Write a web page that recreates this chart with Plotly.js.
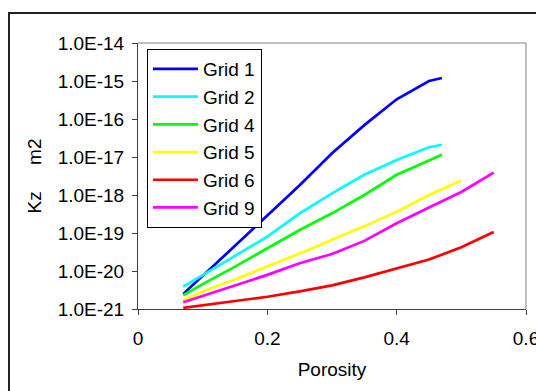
<!DOCTYPE html>
<html>
<head>
<meta charset="utf-8">
<script src="https://cdn.plot.ly/plotly-3.0.1.min.js"></script>
<style>html,body{margin:0;padding:0;background:#fff;}#chart{width:536px;height:391px;}</style>
</head>
<body>
<div id="chart"></div>
<script>
const porosity1 = [0.07, 0.10, 0.15, 0.20, 0.25, 0.30, 0.35, 0.40, 0.45, 0.47];
const grid1 = [2.5e-21, 7.6e-21, 4.6e-20, 2.9e-19, 1.8e-18, 1.26e-17, 6.9e-17, 3.3e-16, 1.0e-15, 1.2e-15];
const grid2 = [3.9e-21, 7.9e-21, 2.6e-20, 8.0e-20, 3.3e-19, 1.1e-18, 3.4e-18, 8.3e-18, 1.8e-17, 2.1e-17];
const grid4 = [2.3e-21, 4.5e-21, 1.3e-20, 4.0e-20, 1.2e-19, 3.3e-19, 1.0e-18, 3.4e-18, 8.3e-18, 1.15e-17];
const porosity5 = [0.07, 0.10, 0.15, 0.20, 0.25, 0.30, 0.35, 0.40, 0.45, 0.50];
const grid5 = [1.7e-21, 2.9e-21, 6.0e-21, 1.3e-20, 2.9e-20, 6.6e-20, 1.5e-19, 3.6e-19, 1.0e-18, 2.4e-18];
const porosity69 = [0.07, 0.10, 0.15, 0.20, 0.25, 0.30, 0.35, 0.40, 0.45, 0.50, 0.55];
const grid6 = [1.07e-21, 1.26e-21, 1.6e-21, 2.1e-21, 2.9e-21, 4.2e-21, 6.8e-21, 1.17e-20, 2.0e-20, 4.2e-20, 1.06e-19];
const grid9 = [1.5e-21, 2.2e-21, 4.1e-21, 7.9e-21, 1.6e-20, 2.8e-20, 6.2e-20, 1.8e-19, 4.7e-19, 1.2e-18, 3.9e-18];

const seriesNames = ["Grid 1", "Grid 2", "Grid 4", "Grid 5", "Grid 6", "Grid 9"];
const seriesColors = ["#0000FF", "#00FFFF", "#00FF00", "#FFFF00", "#FF0000", "#FF00FF"];
const seriesX = [porosity1, porosity1, porosity1, porosity5, porosity69, porosity69];
const seriesY = [grid1, grid2, grid4, grid5, grid6, grid9];

const yTickVals = [1e-21, 1e-20, 1e-19, 1e-18, 1e-17, 1e-16, 1e-15, 1e-14];
const yTickText = ["1.0E-21", "1.0E-20", "1.0E-19", "1.0E-18", "1.0E-17", "1.0E-16", "1.0E-15", "1.0E-14"];
const xTickVals = [0, 0.2, 0.4, 0.6];
const xTickText = ["0", "0.2", "0.4", "0.6"];

const traces = seriesNames.map((n, i) => ({
  x: seriesX[i], y: seriesY[i], name: n, type: 'scatter', mode: 'lines',
  line: {color: seriesColors[i], width: 2.7}
}));

const font = {family: 'Arial, "Liberation Sans", sans-serif', size: 19, color: '#000'};

const layout = {
  width: 536, height: 391,
  margin: {l: 138, r: 10, t: 43, b: 82},
  paper_bgcolor: '#fff', plot_bgcolor: '#fff',
  font: font,
  showlegend: true,
  legend: {
    x: 0.023, y: 0.977, xanchor: 'left', yanchor: 'top',
    bgcolor: '#fff', bordercolor: '#000', borderwidth: 1,
    font: font, tracegroupgap: 0, itemwidth: 45
  },
  xaxis: {
    range: [0, 0.6], tickvals: xTickVals, ticktext: xTickText,
    showgrid: false, zeroline: false, showline: true, linecolor: '#404040', linewidth: 1,
    ticks: 'outside', ticklen: 5, tickcolor: '#404040', tickfont: font,
    ticklabelstandoff: 7, ticklabeloverflow: 'allow',
    title: {text: 'Porosity', font: font, standoff: 14}
  },
  yaxis: {
    type: 'log', range: [-21, -14], tickvals: yTickVals, ticktext: yTickText,
    showgrid: false, zeroline: false, showline: true, linecolor: '#404040', linewidth: 1,
    ticks: 'outside', ticklen: 5, tickcolor: '#404040', tickfont: font,
    ticklabelstandoff: 4, ticklabeloverflow: 'allow',
    title: {text: 'Kz\u00A0\u00A0\u00A0\u00A0\u00A0m2', font: font, standoff: 11}
  },
  shapes: [
    {type: 'line', xref: 'paper', yref: 'paper', x0: 0, x1: 1, y0: 1, y1: 1, line: {color: '#808080', width: 1}},
    {type: 'line', xref: 'paper', yref: 'paper', x0: 1, x1: 1, y0: 0, y1: 1, line: {color: '#808080', width: 1}},
    {type: 'rect', xref: 'paper', yref: 'paper', x0: -0.3325, x1: 1.05, y0: -0.34, y1: 1.1128, line: {color: '#222', width: 2}, fillcolor: 'rgba(0,0,0,0)'}
  ]
};

Plotly.newPlot('chart', traces, layout, {staticPlot: true, displayModeBar: false});
</script>
</body>
</html>
